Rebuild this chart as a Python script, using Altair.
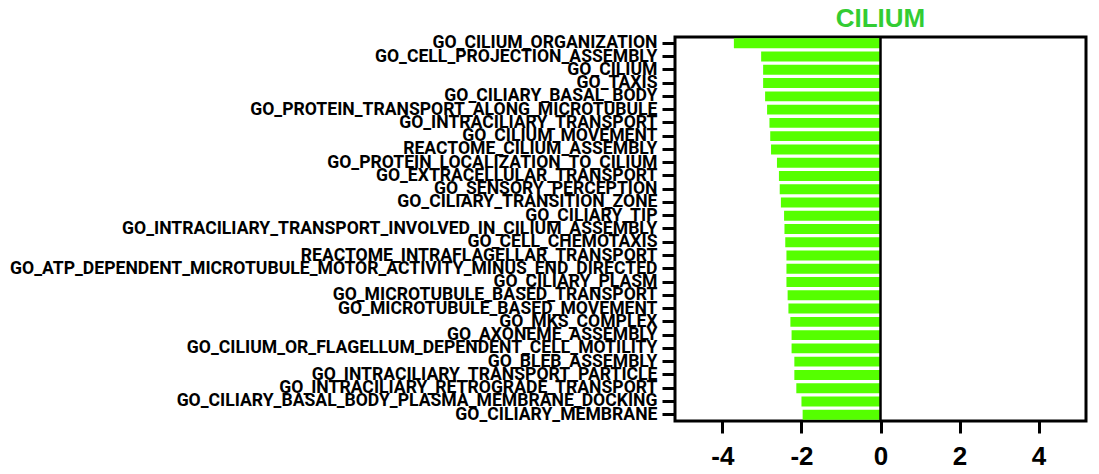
import altair as alt
import pandas as pd

terms = [
    "GO_CILIUM_ORGANIZATION",
    "GO_CELL_PROJECTION_ASSEMBLY",
    "GO_CILIUM",
    "GO_TAXIS",
    "GO_CILIARY_BASAL_BODY",
    "GO_PROTEIN_TRANSPORT_ALONG_MICROTUBULE",
    "GO_INTRACILIARY_TRANSPORT",
    "GO_CILIUM_MOVEMENT",
    "REACTOME_CILIUM_ASSEMBLY",
    "GO_PROTEIN_LOCALIZATION_TO_CILIUM",
    "GO_EXTRACELLULAR_TRANSPORT",
    "GO_SENSORY_PERCEPTION",
    "GO_CILIARY_TRANSITION_ZONE",
    "GO_CILIARY_TIP",
    "GO_INTRACILIARY_TRANSPORT_INVOLVED_IN_CILIUM_ASSEMBLY",
    "GO_CELL_CHEMOTAXIS",
    "REACTOME_INTRAFLAGELLAR_TRANSPORT",
    "GO_ATP_DEPENDENT_MICROTUBULE_MOTOR_ACTIVITY_MINUS_END_DIRECTED",
    "GO_CILIARY_PLASM",
    "GO_MICROTUBULE_BASED_TRANSPORT",
    "GO_MICROTUBULE_BASED_MOVEMENT",
    "GO_MKS_COMPLEX",
    "GO_AXONEME_ASSEMBLY",
    "GO_CILIUM_OR_FLAGELLUM_DEPENDENT_CELL_MOTILITY",
    "GO_BLEB_ASSEMBLY",
    "GO_INTRACILIARY_TRANSPORT_PARTICLE",
    "GO_INTRACILIARY_RETROGRADE_TRANSPORT",
    "GO_CILIARY_BASAL_BODY_PLASMA_MEMBRANE_DOCKING",
    "GO_CILIARY_MEMBRANE",
]
nes = [
    -3.71, -3.02, -2.97, -2.97, -2.92, -2.87, -2.81, -2.79, -2.77,
    -2.62, -2.57, -2.55, -2.52, -2.44, -2.43, -2.41, -2.38, -2.38,
    -2.38, -2.35, -2.33, -2.28, -2.25, -2.25, -2.18, -2.18, -2.13,
    -2.00, -1.97,
]
x_ticks = [-4, -2, 0, 2, 4]
zero = [0]

df = pd.DataFrame({"term": terms, "nes": nes})
zdf = pd.DataFrame({"z": zero})

x_scale = alt.Scale(domain=[-5.2, 5.2], nice=False, zero=False)

bars = alt.Chart(df).mark_bar(color="#55ff00").encode(
    y=alt.Y("term:N", sort=terms,
            scale=alt.Scale(paddingInner=0.25, paddingOuter=0.1),
            axis=alt.Axis(title=None, labelFont="Roboto",
                          labelFontWeight="bold", labelFontSize=17.6,
                          labelColor="black", labelLimit=0, labelPadding=5,
                          tickSize=13, tickWidth=3, tickColor="black",
                          domain=False, labelOverlap=False)),
    x=alt.X("nes:Q", scale=x_scale,
            axis=alt.Axis(title=None, values=x_ticks,
                          labelExpr="datum.value < 0 ? '-' + abs(datum.value) : '' + datum.value",
                          labelFont="Liberation Sans", labelFontWeight="bold",
                          labelFontSize=26, labelColor="black", labelPadding=10,
                          tickSize=12, tickWidth=3, tickColor="black",
                          domain=False, grid=False)),
)

zline = alt.Chart(zdf).mark_rule(color="black", strokeWidth=2.5).encode(
    x=alt.X("z:Q", scale=x_scale)
)

chart = (bars + zline).properties(
    width=411,
    height=384,
    title=alt.TitleParams("CILIUM", color="#33cc33", font="Liberation Sans",
                          fontWeight="bold", fontSize=26, anchor="middle",
                          offset=2),
    autosize=alt.AutoSizeParams(type="none"),
    padding={"left": 667, "top": 29, "right": 5, "bottom": 50},
).configure_view(stroke="black", strokeWidth=3)

chart.save("out.html", embed_options={"renderer": "svg", "actions": False})
